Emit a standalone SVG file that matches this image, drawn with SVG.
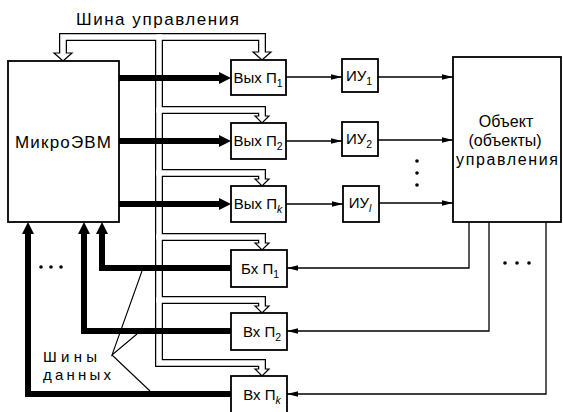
<svg xmlns="http://www.w3.org/2000/svg" width="563" height="412" viewBox="0 0 563 412">
<style>
text{font-family:"Liberation Sans","DejaVu Sans",sans-serif;fill:#000}
.box{fill:#fff;stroke:#000;stroke-width:1.8}
.lbl{font-family:"Liberation Sans Narrow","Liberation Sans",sans-serif;font-size:15px;text-anchor:middle}
.sub{font-size:10.5px}
.busb{fill:none;stroke:#000;stroke-width:8;stroke-linejoin:miter;stroke-linecap:butt}
.busw{fill:none;stroke:#fff;stroke-width:5.5;stroke-linejoin:miter;stroke-linecap:square}
.harr{fill:#fff;stroke:#000;stroke-width:1.2;stroke-linejoin:miter}
.thick{fill:none;stroke:#000;stroke-width:6;stroke-linejoin:miter}
.thin{fill:none;stroke:#000;stroke-width:1.3;marker-end:url(#ta)}
.plain{fill:none;stroke:#000;stroke-width:1.1}
</style>
<defs>
<marker id="ta" markerUnits="userSpaceOnUse" markerWidth="12" markerHeight="8" refX="11" refY="4" orient="auto">
<path d="M0,1.2 L11,4 L0,6.8 Z" fill="#000"/>
</marker>
</defs>
<rect width="563" height="412" fill="#fff"/>

<g id="connectors">
  <g id="control-bus">
    <path class="busb" d="M63,53 V37 H262 V52"/>
    <path class="busb" d="M159,37 V363 H262 V369"/>
    <path class="busb" d="M159,110 H262 V116"/>
    <path class="busb" d="M159,173 H262 V179"/>
    <path class="busb" d="M159,237 H262 V243"/>
    <path class="busb" d="M159,300 H262 V306"/>
    <polygon class="harr" points="54,53 72,53 63,61"/>
    <polygon class="harr" points="253,52 271,52 262,60"/>
    <polygon class="harr" points="255,116 269,116 262,123"/>
    <polygon class="harr" points="255,179 269,179 262,186"/>
    <polygon class="harr" points="255,243 269,243 262,250"/>
    <polygon class="harr" points="255,306 269,306 262,313"/>
    <polygon class="harr" points="255,369 269,369 262,376"/>
    <path class="busw" d="M63,53 V37 H262 V52"/>
    <path class="busw" d="M159,37 V363 H262 V369"/>
    <path class="busw" d="M159,110 H262 V116"/>
    <path class="busw" d="M159,173 H262 V179"/>
    <path class="busw" d="M159,237 H262 V243"/>
    <path class="busw" d="M159,300 H262 V306"/>
  </g>
  <g id="data-buses">
    <path class="thick" d="M119,78 H222"/>
    <polygon points="219,72 231,78 219,84"/>
    <path class="thick" d="M119,141 H222"/>
    <polygon points="219,135 231,141 219,147"/>
    <path class="thick" d="M119,204 H222"/>
    <polygon points="219,198 231,204 219,210"/>
    <path class="thick" d="M231,268 H102 V231"/>
    <polygon points="96,234 102,222 108,234"/>
    <path class="thick" d="M231,331 H84 V231"/>
    <polygon points="78,234 84,222 90,234"/>
    <path class="thick" d="M231,394 H28 V231"/>
    <polygon points="22,234 28,222 34,234"/>
  </g>
  <path class="thin" d="M286,77 H342"/>
  <path class="thin" d="M378,77 H453"/>
  <path class="thin" d="M286,141 H342"/>
  <path class="thin" d="M378,140 H453"/>
  <path class="thin" d="M286,204 H343"/>
  <path class="thin" d="M379,203 H453"/>
  <path class="thin" d="M469,222 V268 H287"/>
  <path class="thin" d="M489,222 V331 H287"/>
  <path class="thin" d="M546,222 V394 H287"/>
  <path class="plain" d="M142,271 L112,355 L137,334 M112,355 L150,391"/>
</g>

<g id="label-control-bus">
  <text x="76" y="25" font-size="17" textLength="163" lengthAdjust="spacing">Шина управления</text>
</g>

<g id="microevm">
  <rect class="box" x="8" y="61" width="111" height="161"/>
  <text x="63" y="148" font-size="17" text-anchor="middle" textLength="96" lengthAdjust="spacing">МикроЭВМ</text>
</g>

<g id="out1"><rect class="box" x="231" y="60" width="55" height="35"/>
  <text class="lbl" x="258" y="83">Вых П<tspan class="sub" dy="4">1</tspan></text></g>
<g id="out2"><rect class="box" x="231" y="123" width="55" height="36"/>
  <text class="lbl" x="258" y="146">Вых П<tspan class="sub" dy="4">2</tspan></text></g>
<g id="outk"><rect class="box" x="231" y="186" width="55" height="36"/>
  <text class="lbl" x="258" y="209">Вых П<tspan class="sub" dy="4" font-style="italic">k</tspan></text></g>
<g id="in1"><rect class="box" x="231" y="250" width="56" height="37"/>
  <text class="lbl" x="260" y="274">Бх П<tspan class="sub" dy="4">1</tspan></text></g>
<g id="in2"><rect class="box" x="231" y="313" width="56" height="37"/>
  <text class="lbl" x="262" y="337">Вх П<tspan class="sub" dy="4">2</tspan></text></g>
<g id="ink"><rect class="box" x="231" y="376" width="56" height="38"/>
  <text class="lbl" x="262" y="400">Вх П<tspan class="sub" dy="4" font-style="italic">k</tspan></text></g>

<g id="iu1"><rect class="box" x="342" y="59" width="36" height="33"/>
  <text class="lbl" x="359" y="81">ИУ<tspan class="sub" dy="4">1</tspan></text></g>
<g id="iu2"><rect class="box" x="342" y="122" width="36" height="34"/>
  <text class="lbl" x="359" y="144">ИУ<tspan class="sub" dy="4">2</tspan></text></g>
<g id="iul"><rect class="box" x="343" y="186" width="36" height="36"/>
  <text class="lbl" x="360" y="208">ИУ<tspan class="sub" dy="4" font-style="italic">l</tspan></text></g>

<g id="object">
  <rect class="box" x="453" y="57" width="108" height="165"/>
  <text x="506" y="127" font-size="16" text-anchor="middle">Объект</text>
  <text x="505" y="146" font-size="16" text-anchor="middle">(объекты)</text>
  <text x="507" y="165" font-size="16" text-anchor="middle" textLength="102" lengthAdjust="spacing">управления</text>
</g>

<g id="dots">
  <circle cx="417" cy="161" r="1.8"/>
  <circle cx="417" cy="173" r="1.8"/>
  <circle cx="417" cy="185" r="1.8"/>
  <circle cx="505" cy="263" r="1.8"/>
  <circle cx="517" cy="263" r="1.8"/>
  <circle cx="529" cy="263" r="1.8"/>
  <circle cx="41" cy="267" r="1.8"/>
  <circle cx="51" cy="267" r="1.8"/>
  <circle cx="61" cy="267" r="1.8"/>
</g>

<g id="label-data-buses">
  <text x="43" y="362" font-size="15" textLength="54" lengthAdjust="spacing">Шины</text>
  <text x="43" y="380" font-size="15" textLength="68" lengthAdjust="spacing">данных</text>
</g>
</svg>
